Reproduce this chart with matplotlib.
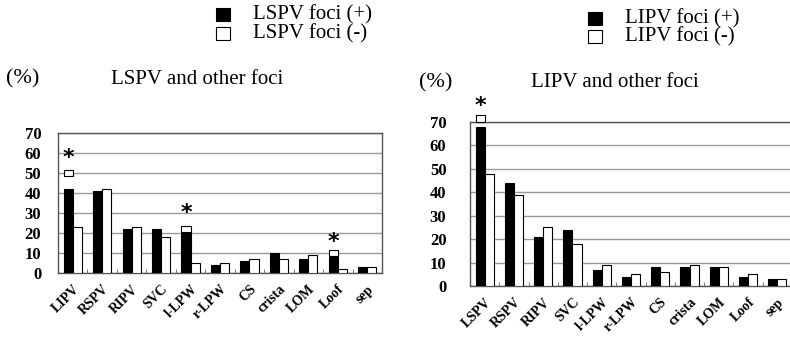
import numpy as np
import matplotlib
matplotlib.use("Agg")
import matplotlib.pyplot as plt
from matplotlib.patches import Rectangle

plt.rcParams['font.family'] = ['Liberation Serif', 'DejaVu Serif']

# ---- data ----
cats_l = ["LIPV", "RSPV", "RIPV", "SVC", "l-LPW", "r-LPW", "CS", "crista", "LOM", "Loof", "sep"]
lspv_pos = [42, 41, 22, 22, 20, 4, 6, 10, 7, 8, 3]
lspv_neg = [23, 42, 23, 18, 5, 5, 7, 7, 9, 2, 3]
# small open boxes + asterisks (significance marks): index, box bottom, box top, star y
sig_l = [(0, 48.5, 51.5, 57.5), (4, 20.5, 23.5, 30), (9, 8.5, 11.5, 15.5)]

cats_r = ["LSPV", "RSPV", "RIPV", "SVC", "l-LPW", "r-LPW", "CS", "crista", "LOM", "Loof", "sep"]
lipv_pos = [68, 44, 21, 24, 7, 4, 8, 8, 8, 4, 3]
lipv_neg = [48, 39, 25, 18, 9, 5, 6, 9, 8, 5, 3]
sig_r = [(0, 70, 73, 77)]

W, H = 790, 337
fig = plt.figure(figsize=(W / 100, H / 100), dpi=100)


def px_axes(x0, x1, ytop, ybot):
    return fig.add_axes([x0 / W, 1 - ybot / H, (x1 - x0) / W, (ybot - ytop) / H])


def draw(ax, cats, pos, neg, sig, pad):
    x = np.arange(len(cats))
    bw = 0.31
    ax.bar(x - bw / 2, pos, bw, color="black", edgecolor="black", lw=0.8, zorder=3)
    ax.bar(x + bw / 2, neg, bw, color="white", edgecolor="black", lw=0.8, zorder=3)
    for i, lo, hi, st in sig:
        ax.bar(x[i] - bw / 2, hi - lo, bw, bottom=lo, color="white",
               edgecolor="black", lw=0.8, zorder=4, clip_on=False)
        ax.text(x[i] - bw / 2, st, "*", ha="center", va="center",
                fontsize=16, fontweight="bold", family="DejaVu Sans", clip_on=False)
    ax.set_xlim(-0.5, len(cats) - 0.5)
    ax.set_ylim(0, 70)
    ax.set_yticks(np.arange(0, 71, 10))
    ax.yaxis.grid(True, color="#9a9a9a", lw=1, zorder=0)
    ax.set_axisbelow(True)
    ax.set_xticks(x)
    ax.set_xticklabels(cats, rotation=45, ha="right", va="top",
                       rotation_mode="anchor", fontweight="bold", fontsize=10)
    ax.set_xticks(np.arange(0.5, len(cats) - 1, 1), minor=True)
    ax.tick_params(axis="x", which="major", length=0, pad=7)
    ax.tick_params(axis="x", which="minor", length=3, direction="in", color="#666666")
    ax.tick_params(axis="y", length=0, pad=pad, labelsize=12)
    for lab in ax.get_yticklabels():
        lab.set_fontweight("bold")
    for s in ax.spines.values():
        s.set_color("#555555")
        s.set_linewidth(1)


ax1 = px_axes(58, 382, 133, 273)
draw(ax1, cats_l, lspv_pos, lspv_neg, sig_l, 12)
ax2 = px_axes(470, 792, 122, 286)
draw(ax2, cats_r, lipv_pos, lipv_neg, sig_r, 17)


def legend(xsq, xtxt, ys, name):
    for y, fc, lab in zip(ys, ["black", "white"], ["(+)", "(-)"]):
        fig.patches.append(Rectangle((xsq / W, 1 - (y + 6) / H), 14 / W, 13 / H,
                                     facecolor=fc, edgecolor="black", lw=0.8,
                                     transform=fig.transFigure))
        fig.text(xtxt / W, 1 - y / H, f"{name} foci {lab}", fontsize=15,
                 ha="left", va="center")


legend(216, 253, [15, 34], "LSPV")
legend(588, 625, [19, 37], "LIPV")

fig.text(23 / W, 1 - 79 / H, "(%)", fontsize=16, ha="center", va="center")
fig.text(197 / W, 1 - 79 / H, "LSPV and other foci", fontsize=15, ha="center", va="center")
fig.text(436 / W, 1 - 83 / H, "(%)", fontsize=16, ha="center", va="center")
fig.text(615 / W, 1 - 83 / H, "LIPV and other foci", fontsize=15, ha="center", va="center")

fig.savefig("out.png", dpi=100)
